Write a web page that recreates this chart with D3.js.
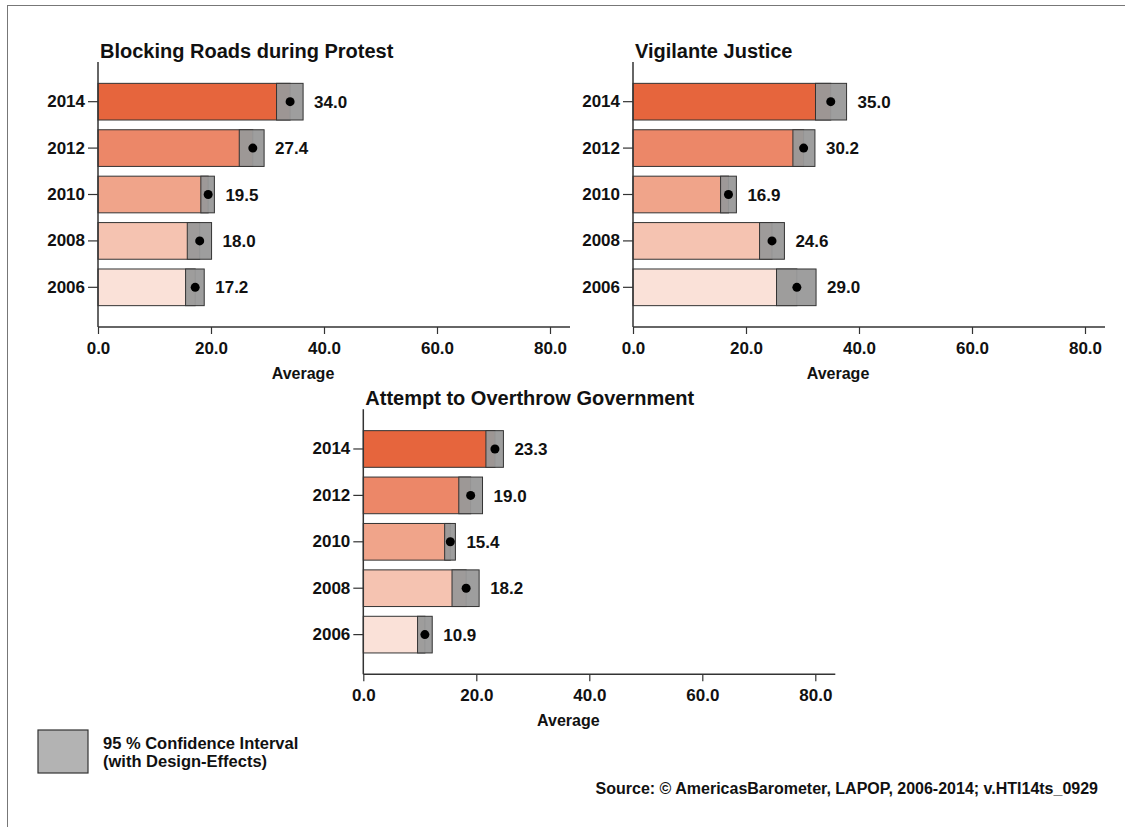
<!DOCTYPE html>
<html>
<head>
<meta charset="utf-8">
<script src="https://cdn.jsdelivr.net/npm/d3@7"></script>
<style>
  html, body { margin: 0; padding: 0; background: #fff; }
  svg text { font-family: "Liberation Sans", Arial, Helvetica, sans-serif; font-weight: bold; fill: #111; }
</style>
</head>
<body>
<svg id="chart" width="1125" height="827"></svg>
<script>
// Survey years, top to bottom
const years = ["2014", "2012", "2010", "2008", "2006"];

// Blocking Roads during Protest: mean and 95% CI bounds
const roadsMean = [34.0, 27.4, 19.5, 18.0, 17.2];
const roadsLow  = [31.6, 25.0, 18.2, 15.8, 15.5];
const roadsHigh = [36.3, 29.4, 20.6, 20.1, 18.8];

// Vigilante Justice
const vigilMean = [35.0, 30.2, 16.9, 24.6, 29.0];
const vigilLow  = [32.3, 28.3, 15.5, 22.4, 25.4];
const vigilHigh = [37.8, 32.2, 18.3, 26.8, 32.4];

// Attempt to Overthrow Government
const coupMean = [23.3, 19.0, 15.4, 18.2, 10.9];
const coupLow  = [21.7, 16.9, 14.4, 15.7, 9.6];
const coupHigh = [24.8, 21.1, 16.3, 20.5, 12.2];

// Axis ticks
const xTicks = [0, 20, 40, 60, 80];

const palette = ["#e6653d", "#ec8768", "#f0a48a", "#f5c3b1", "#fae1d8"];

const svg = d3.select("#chart");

// outer frame
svg.append("rect")
  .attr("x", 7.5).attr("y", 5.5)
  .attr("width", 1200).attr("height", 900)
  .attr("fill", "none").attr("stroke", "#777").attr("stroke-width", 1);

function panel(title, means, lows, highs, x0, yTop) {
  const yBottom = yTop + 265;
  const x = d3.scaleLinear().domain([0, 80]).range([x0, x0 + 452]);
  const y = d3.scaleBand().domain(years).range([yTop, yBottom])
    .paddingInner(0.21).paddingOuter(0.46);
  const g = svg.append("g");
  const rows = years.map((yr, i) => ({ yr, i, m: means[i], lo: lows[i], hi: highs[i] }));

  // bars up to the mean
  g.selectAll("rect.bar").data(rows).join("rect")
    .attr("class", "bar")
    .attr("x", x(0)).attr("y", d => y(d.yr))
    .attr("width", d => x(d.m) - x(0)).attr("height", y.bandwidth())
    .attr("fill", d => palette[d.i])
    .attr("stroke", "#333").attr("stroke-width", 1);

  // confidence interval boxes
  g.selectAll("rect.ci").data(rows).join("rect")
    .attr("class", "ci")
    .attr("x", d => x(d.lo)).attr("y", d => y(d.yr))
    .attr("width", d => x(d.hi) - x(d.lo)).attr("height", y.bandwidth())
    .attr("fill", "#999").attr("fill-opacity", 0.95)
    .attr("stroke", "#333").attr("stroke-width", 1);

  // mean markers
  g.selectAll("circle").data(rows).join("circle")
    .attr("cx", d => x(d.m)).attr("cy", d => y(d.yr) + y.bandwidth() / 2)
    .attr("r", 4.5).attr("fill", "#000");

  // value labels
  g.selectAll("text.val").data(rows).join("text")
    .attr("class", "val")
    .attr("x", d => x(d.hi) + 11).attr("y", d => y(d.yr) + y.bandwidth() / 2)
    .attr("dy", "0.36em").attr("font-size", 17)
    .text(d => d3.format(".1f")(d.m));

  // y axis
  const ya = g.append("g").attr("transform", `translate(${x0},0)`)
    .call(d3.axisLeft(y).tickSize(10).tickPadding(3).tickSizeOuter(0));
  ya.select(".domain").attr("stroke", "#333").attr("stroke-width", 1.5)
    .attr("d", `M0,${yTop}V${yBottom}`);
  ya.selectAll(".tick line").attr("stroke", "#333").attr("stroke-width", 1.2);
  ya.selectAll(".tick text").attr("font-size", 17).attr("fill", "#111")
    .attr("font-family", "Liberation Sans, Arial, sans-serif").attr("font-weight", "bold");

  // x axis
  const xa = g.append("g").attr("transform", `translate(0,${yBottom})`)
    .call(d3.axisBottom(x).tickValues(xTicks).tickFormat(d3.format(".1f"))
      .tickSize(7).tickPadding(8).tickSizeOuter(0));
  xa.select(".domain").attr("stroke", "#333").attr("stroke-width", 1.5)
    .attr("d", `M${x0},0H${x0 + 472}`);
  xa.selectAll(".tick line").attr("stroke", "#333").attr("stroke-width", 1.2);
  xa.selectAll(".tick text").attr("font-size", 17).attr("fill", "#111")
    .attr("font-family", "Liberation Sans, Arial, sans-serif").attr("font-weight", "bold");

  // axis title
  g.append("text").attr("x", x0 + 205).attr("y", yBottom + 52)
    .attr("text-anchor", "middle").attr("font-size", 16).text("Average");

  // panel title
  g.append("text").attr("x", x0 + 2).attr("y", yTop - 4)
    .attr("font-size", 20).text(title);
}

panel("Blocking Roads during Protest", roadsMean, roadsLow, roadsHigh, 98, 62);
panel("Vigilante Justice", vigilMean, vigilLow, vigilHigh, 633, 62);
panel("Attempt to Overthrow Government", coupMean, coupLow, coupHigh, 363.3, 409.3);

// legend
svg.append("rect").attr("x", 38).attr("y", 730).attr("width", 50).attr("height", 43)
  .attr("fill", "#b3b3b3").attr("stroke", "#333").attr("stroke-width", 1.2);
svg.append("text").attr("x", 103).attr("y", 749).attr("font-size", 16.5)
  .text("95 % Confidence Interval");
svg.append("text").attr("x", 103).attr("y", 767).attr("font-size", 16.5)
  .text("(with Design-Effects)");

// source note
svg.append("text").attr("x", 1098).attr("y", 794).attr("text-anchor", "end")
  .attr("font-size", 16).text("Source: \u00A9 AmericasBarometer, LAPOP, 2006-2014; v.HTI14ts_0929");
</script>
</body>
</html>
